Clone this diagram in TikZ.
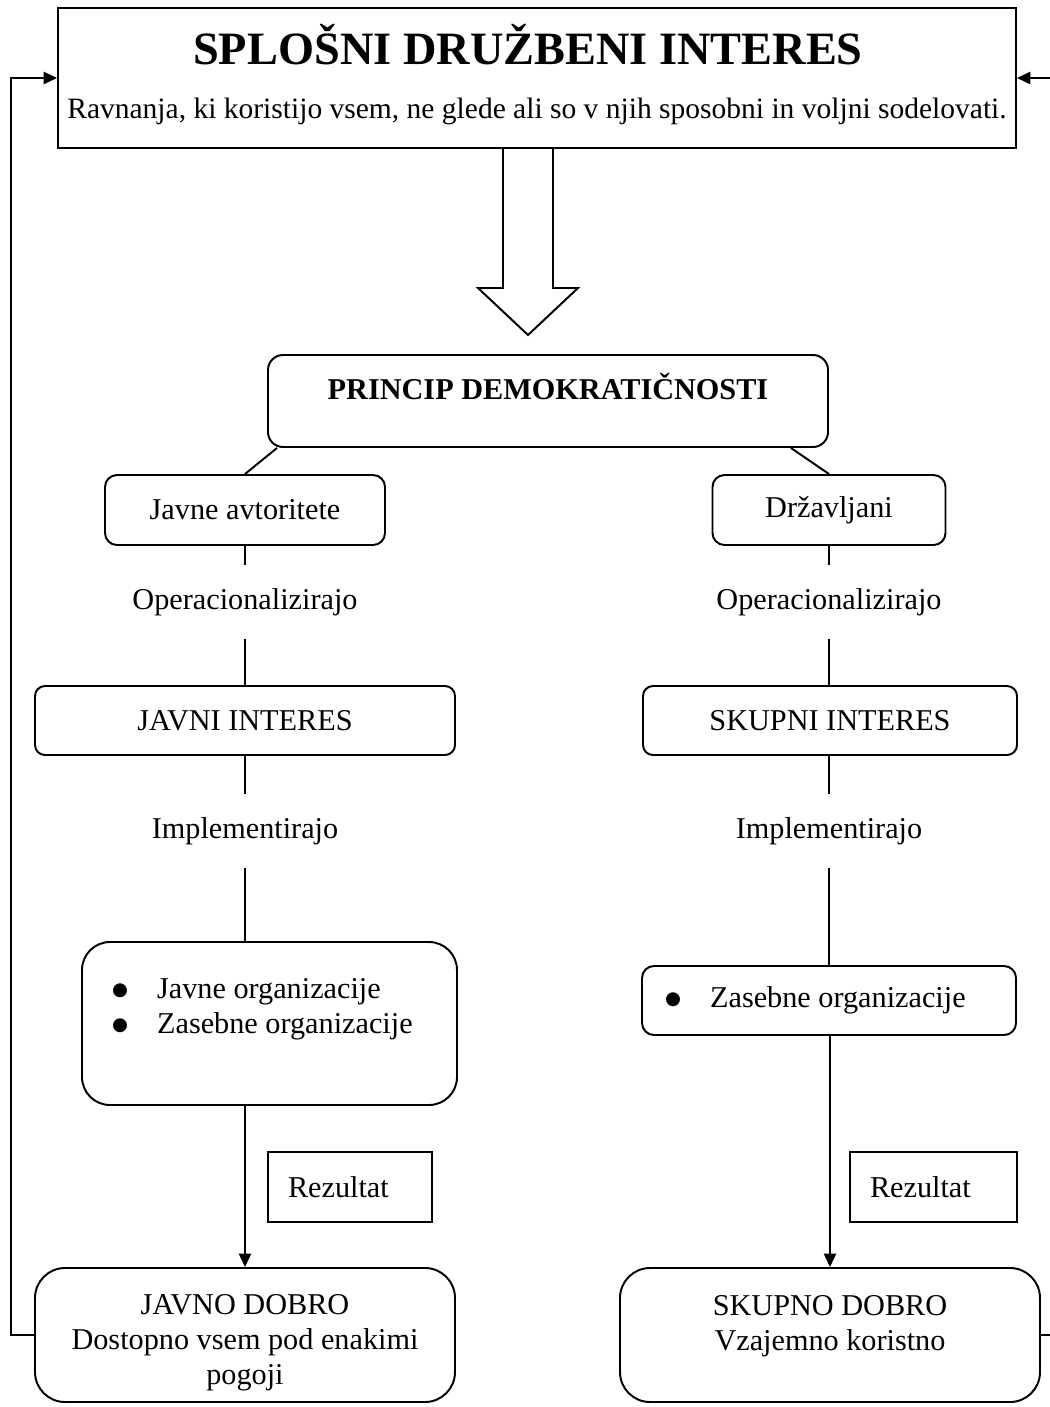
\documentclass[tikz,border=0pt]{standalone}
\usepackage{fontspec}
\setmainfont{Liberation Serif}
\newfontfamily\simboli{DejaVu Sans}
\usetikzlibrary{arrows.meta}

\def\pxu{0.41pt}
\newcommand{\besedilo}{\fontsize{12.4}{14.4}\selectfont}
\newcommand{\alineja}{\makebox[18.5pt][l]{\raisebox{1.2pt}{\simboli\fontsize{7.5}{9}\selectfont ●}}}

\tikzset{
    okvir/.style={draw, thick, inner sep=0pt, align=center},
    zaobljen/.style={okvir, rounded corners=#1*\pxu},
    velikost/.style 2 args={minimum width=#1*\pxu, minimum height=#2*\pxu},
    glagol/.style={minimum height=72*\pxu, inner sep=0pt},
    rezultat/.style={okvir, minimum height=70*\pxu, inner xsep=20*\pxu, align=flush left}
}

\begin{document}
\begin{tikzpicture}[x=\pxu, y=-\pxu, thick, >={Triangle[length=5.5pt,width=5pt]},
    every node/.style={font=\besedilo}]
    \useasboundingbox (0,0) rectangle (1049,1407);

    % Splosni druzbeni interes
    \node[okvir, velikost={958}{140}] (splosni) at (537,78) {};
    \node[font=\fontsize{19}{22}\selectfont\bfseries] (naslov) at (528,45) {SPLOŠNI DRUŽBENI INTERES};
    \node[font=\fontsize{12.1}{14}\selectfont] (ravnanja) at (537,111) {Ravnanja, ki koristijo vsem, ne glede ali so v njih sposobni in voljni sodelovati.};

    % big hollow arrow
    \draw (503,148) -- (503,288) -- (478,288) -- (528,335) -- (578,288) -- (553,288) -- (553,148);

    % Princip
    \node[zaobljen=15, velikost={560}{92}, font=\besedilo\bfseries, text depth=12pt] (princip) at (548,401) {PRINCIP DEMOKRATIČNOSTI};

    % left branch
    \node[zaobljen=12, velikost={280}{70}] (javav) at (245,510) {Javne avtoritete};
    \draw (princip.south west) ++(10,0) -- (javav.north);
    \node[glagol] (op1) at (245,602) {Operacionalizirajo};
    \draw (javav) -- (op1);
    \node[zaobljen=10, velikost={420}{69}] (javint) at (245,720.5) {JAVNI INTERES};
    \draw (op1) -- (javint);
    \node[glagol] (im1) at (245,831) {Implementirajo};
    \draw (javint) -- (im1);
    \node[zaobljen=28, velikost={375}{163}, inner xsep=30*\pxu, text width=315*\pxu, align=flush left] (javorg) at (269.5,1023.5)
        {\alineja Javne organizacije\\ \alineja Zasebne organizacije\\ \mbox{}};
    \draw (im1.south) -- (im1.south |- javorg.north);
    \node[rezultat, text width=124*\pxu] (rez1) at (350,1187) {Rezultat};
    \node[zaobljen=30, velikost={420}{134}] (javdob) at (245,1335)
        {\rule{0pt}{14.5pt}JAVNO DOBRO\\Dostopno vsem pod enakimi\\pogoji};
    \draw[->] (javdob.north |- javorg.south) -- (javdob.north);

    % right branch
    \node[zaobljen=12, velikost={233}{70}] (drzav) at (829,510) {Državljani};
    \draw (princip.south east) ++(-38,0) -- (drzav.north);
    \node[glagol] (op2) at (829,602) {Operacionalizirajo};
    \draw (drzav) -- (op2);
    \node[zaobljen=10, velikost={374}{69}] (skuint) at (830,720.5) {SKUPNI INTERES};
    \draw (op2.south) -- (op2.south |- skuint.north);
    \node[glagol] (im2) at (829,831) {Implementirajo};
    \draw (im2.north |- skuint.south) -- (im2.north);
    \node[zaobljen=12, velikost={374}{69}, inner xsep=23*\pxu, text width=328*\pxu, align=flush left] (zasorg) at (829,1000.5)
        {\alineja Zasebne organizacije};
    \draw (im2.south) -- (im2.south |- zasorg.north);
    \node[rezultat, text width=127*\pxu] (rez2) at (933.5,1187) {Rezultat};
    \node[zaobljen=30, velikost={420}{134}] (skudob) at (830,1335)
        {\rule{0pt}{12.5pt}SKUPNO DOBRO\\Vzajemno koristno\\ \mbox{}};
    \draw[->] (skudob.north |- zasorg.south) -- (skudob.north);

    % feedback loops
    \draw[->] (javdob.west) -- ++(-23,0) |- (splosni.west);
    \draw[->] (skudob.east) -- ++(40,0) |- (splosni.east);
\end{tikzpicture}
\end{document}
